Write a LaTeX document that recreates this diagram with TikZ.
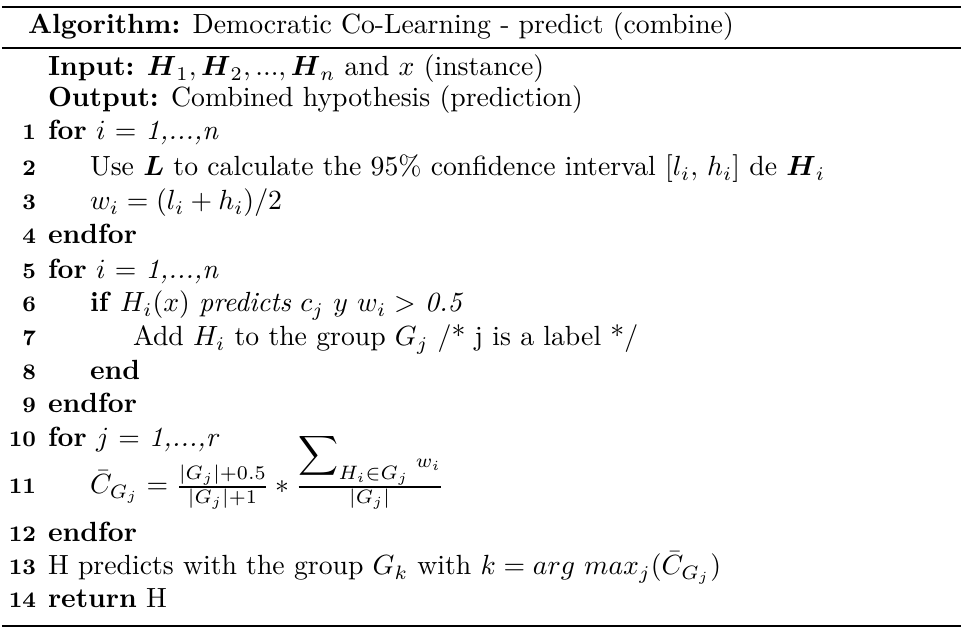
\documentclass[tikz,border=0pt]{standalone}
\usepackage{amsmath,amssymb}
\begin{document}
\begin{tikzpicture}[x=0.3605pt,y=-0.3605pt,
  txt/.style={anchor=base west,inner sep=0pt,outer sep=0pt,font=\normalsize},
  num/.style={anchor=base east,inner sep=0pt,outer sep=0pt,font=\footnotesize\bfseries},
  thickrule/.style={line width=0.8pt},
  thinrule/.style={line width=0.6pt}]
\useasboundingbox (0,0) rectangle (967,635);
\coordinate (t1) at (2,7);   \coordinate (t2) at (961,7);
\coordinate (m1) at (2,48);  \coordinate (m2) at (961,48);
\coordinate (b1) at (2,626); \coordinate (b2) at (961,626);
\draw[thickrule] (t1) -- (t2);
\draw[thinrule] (m1) -- (m2);
\draw[thickrule] (b1) -- (b2);
\node[txt] (hdr) at (28,34) {\textbf{Algorithm:} Democratic Co-Learning - predict (combine)};
\node[txt] (in) at (48,76) {\textbf{Input:} $\boldsymbol{H}_1, \boldsymbol{H}_2, ..., \boldsymbol{H}_n$ and $x$ (instance)};
\node[txt] (out) at (48,107) {\textbf{Output:} Combined hypothesis (prediction)};
\node[num] (n1) at (36,140) {1};
\node[txt] (l1) at (48,140) {\textbf{for} $i$ = \textit{1,...,n}};
\node[num] (n2) at (36,176) {2};
\node[txt] (l2) at (90,176) {Use $\boldsymbol{L}$ to calculate the 95\% confidence interval $[l_i,\, h_i]$ de $\boldsymbol{H}_i$};
\node[num] (n3) at (36,210) {3};
\node[txt] (l3) at (90,210) {$w_i = (l_i + h_i)/2$};
\node[num] (n4) at (36,244) {4};
\node[txt] (l4) at (48,244) {\textbf{endfor}};
\node[num] (n5) at (36,279) {5};
\node[txt] (l5) at (48,279) {\textbf{for} $i$ = \textit{1,...,n}};
\node[num] (n6) at (36,312) {6};
\node[txt] (l6) at (90,312) {\textbf{if} $H_i(x)$ \textit{predicts} $c_j$ $y$ $w_i >$ \textit{0.5}};
\node[num] (n7) at (36,346) {7};
\node[txt] (l7) at (133,346) {Add $H_i$ to the group $G_j$ /* j is a label */};
\node[num] (n8) at (36,380) {8};
\node[txt] (l8) at (90,380) {\textbf{end}};
\node[num] (n9) at (36,413) {9};
\node[txt] (l9) at (48,413) {\textbf{endfor}};
\node[num] (n10) at (36,447) {10};
\node[txt] (l10) at (48,447) {\textbf{for} $j$ = \textit{1,...,r}};
\node[num] (n11) at (36,494) {11};
\node[txt] (l11) at (90,494) {$\bar{C}_{G_j} = \frac{|G_j|+0.5}{|G_j|+1} * \frac{\mbox{$\displaystyle\sum\nolimits_{H_i\in G_j}$}\; \raisebox{-1.5pt}{$\scriptstyle w_i$}}{|G_j|}$};
\node[num] (n12) at (36,542) {12};
\node[txt] (l12) at (48,542) {\textbf{endfor}};
\node[num] (n13) at (36,575) {13};
\node[txt] (l13) at (48,575) {H predicts with the group $G_k$ with $k = arg\ max_j(\bar{C}_{G_j})$};
\node[num] (n14) at (36,608) {14};
\node[txt] (l14) at (48,608) {\textbf{return} H};
\end{tikzpicture}
\end{document}
